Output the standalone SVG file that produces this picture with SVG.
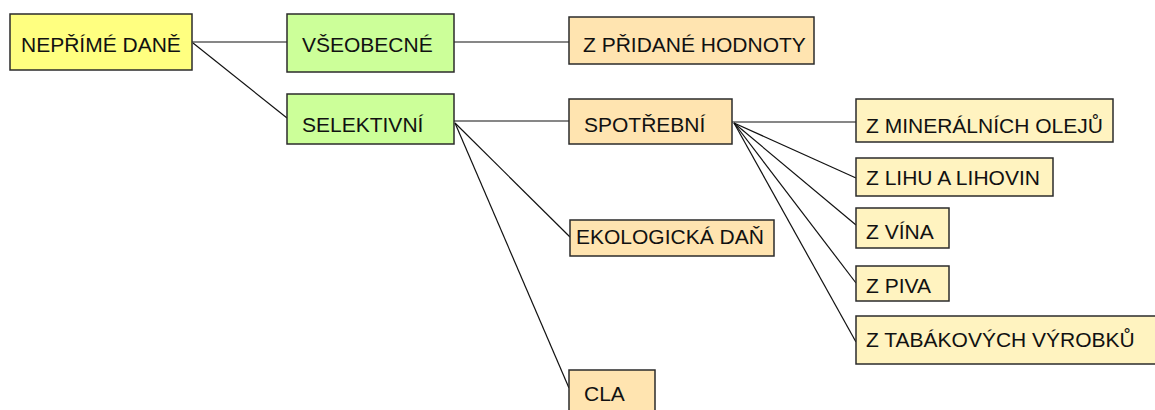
<svg xmlns="http://www.w3.org/2000/svg" width="1155" height="410" viewBox="0 0 1155 410">
<style>
rect{stroke:#2b2b2b;stroke-width:1.5}
.root{fill:#FFFF80}
.l1{fill:#CCFF99}
.l2{fill:#FFE4B0}
.l3{fill:#FFF3C0}
text{font-family:"Liberation Sans",Arial,sans-serif;font-size:21px;fill:#111}
#connectors line{stroke:#111;stroke-width:1.2}
</style>
<rect width="1155" height="410" fill="#fff" style="stroke:none"/>
<g id="connectors">
<line x1="192" y1="42" x2="287" y2="42"/>
<line x1="193" y1="43" x2="287" y2="118"/>
<line x1="454" y1="42" x2="569" y2="42"/>
<line x1="454" y1="121" x2="569" y2="121"/>
<line x1="455" y1="123" x2="570" y2="237"/>
<line x1="455" y1="123" x2="569" y2="388"/>
<line x1="732" y1="122" x2="856" y2="122"/>
<line x1="734" y1="123" x2="856" y2="178"/>
<line x1="734" y1="123" x2="856" y2="225"/>
<line x1="734" y1="123" x2="856" y2="283"/>
<line x1="734" y1="123" x2="856" y2="342"/>
</g>
<g id="nepríme-dane"><rect class="root" x="10" y="14" width="182" height="56"/><text x="21" y="52">NEPŘÍMÉ DANĚ</text></g>
<g id="vseobecne"><rect class="l1" x="287" y="14" width="167" height="58"/><text x="302" y="52">VŠEOBECNÉ</text></g>
<g id="selektivni"><rect class="l1" x="287" y="94" width="167" height="50"/><text x="302" y="132">SELEKTIVNÍ</text></g>
<g id="z-pridane-hodnoty"><rect class="l2" x="569" y="17" width="245" height="47"/><text x="583" y="52">Z PŘIDANÉ HODNOTY</text></g>
<g id="spotrebni"><rect class="l2" x="569" y="99" width="163" height="45"/><text x="584" y="132">SPOTŘEBNÍ</text></g>
<g id="ekologicka-dan"><rect class="l2" x="570" y="220" width="204" height="36"/><text x="576" y="244">EKOLOGICKÁ DAŇ</text></g>
<g id="cla"><rect class="l2" x="569" y="370" width="86" height="50"/><text x="584" y="401">CLA</text></g>
<g id="z-mineralnich-oleju"><rect class="l3" x="856" y="99" width="257" height="43"/><text x="866" y="133">Z MINERÁLNÍCH OLEJŮ</text></g>
<g id="z-lihu-a-lihovin"><rect class="l3" x="856" y="158" width="197" height="38"/><text x="866" y="185">Z LIHU A LIHOVIN</text></g>
<g id="z-vina"><rect class="l3" x="856" y="208" width="93" height="40"/><text x="866" y="239">Z VÍNA</text></g>
<g id="z-piva"><rect class="l3" x="856" y="266" width="93" height="35"/><text x="866" y="293">Z PIVA</text></g>
<g id="z-tabakovych-vyrobku"><rect class="l3" x="856" y="316" width="310" height="48"/><text x="866" y="347">Z TABÁKOVÝCH VÝROBKŮ</text></g>
</svg>
